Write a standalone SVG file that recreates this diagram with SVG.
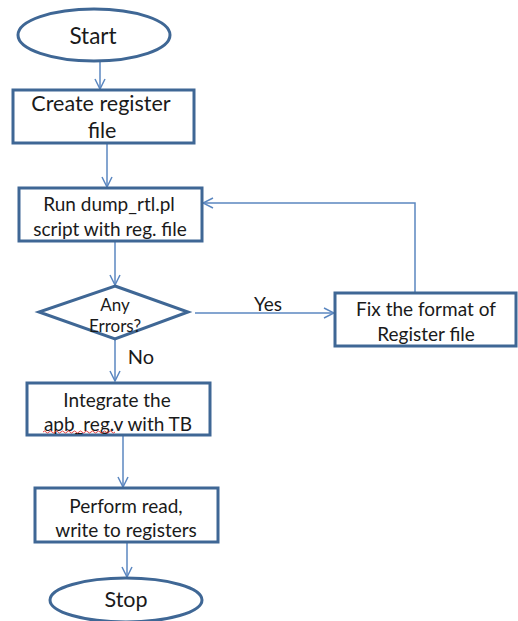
<svg xmlns="http://www.w3.org/2000/svg" width="518" height="621" viewBox="0 0 518 621">
  <style>
    .node { fill: #ffffff; stroke: #3f6795; stroke-width: 3; }
    .edge { fill: none; stroke: #5b87c0; stroke-width: 1.5; }
    .lbl { font-family: Lato, "Open Sans", sans-serif; fill: #1a1a1a; text-anchor: middle; dominant-baseline: central; }
    .big { font-size: 21.5px; }
    .mid { font-size: 19px; }
    .sm { font-size: 17px; }
  </style>
  <defs>
    <marker id="arrow" viewBox="0 0 12 12" refX="11" refY="6" markerWidth="12" markerHeight="12" markerUnits="userSpaceOnUse" orient="auto">
      <path d="M1,1 L11,6 L1,11" fill="none" stroke="#5b87c0" stroke-width="1.5"/>
    </marker>
  </defs>

  <!-- connectors -->
  <g id="connectors">
    <path class="edge" d="M100,61 L100,89" marker-end="url(#arrow)"/>
    <path class="edge" d="M107,144 L107,187" marker-end="url(#arrow)"/>
    <path class="edge" d="M115,242 L115,285" marker-end="url(#arrow)"/>
    <path class="edge" d="M195,313 L334,313" marker-end="url(#arrow)"/>
    <path class="edge" d="M415,292 L415,203 L203,203" marker-end="url(#arrow)"/>
    <path class="edge" d="M115,340 L115,381" marker-end="url(#arrow)"/>
    <path class="edge" d="M123,436 L123,487" marker-end="url(#arrow)"/>
    <path class="edge" d="M127,543 L127,577" marker-end="url(#arrow)"/>
    <text class="lbl mid" x="268" y="303">Yes</text>
    <text class="lbl mid" x="141" y="356" style="font-size:20px">No</text>
  </g>

  <g id="start">
    <ellipse class="node" cx="94" cy="35" rx="76" ry="26"/>
    <text class="lbl big" x="93" y="35" style="font-size:22.5px">Start</text>
  </g>

  <g id="create">
    <rect class="node" x="13" y="90" width="181" height="53"/>
    <text class="lbl big" x="101" y="103">Create register</text>
    <text class="lbl big" x="102" y="130">file</text>
  </g>

  <g id="run">
    <rect class="node" x="19" y="188" width="183" height="53"/>
    <text class="lbl mid" x="109" y="203">Run dump_rtl.pl</text>
    <text class="lbl mid" x="110" y="228">script with reg. file</text>
  </g>

  <g id="decision">
    <polygon class="node" points="115,286 188,312 115,339 39,312" stroke-width="2.5"/>
    <text class="lbl sm" x="115" y="304">Any</text>
    <text class="lbl sm" x="115" y="325">Errors?</text>
  </g>

  <g id="fix">
    <rect class="node" x="335" y="293" width="181" height="53"/>
    <text class="lbl mid" x="426" y="308">Fix the format of</text>
    <text class="lbl mid" x="426" y="333">Register file</text>
  </g>

  <g id="integrate">
    <rect class="node" x="27" y="383" width="183" height="52"/>
    <text class="lbl mid" x="117" y="399">Integrate the</text>
    <text class="lbl mid" x="118" y="423">apb_reg.v with TB</text>
    <path d="M43,432 q1.5,-2 3,0 t3,0 t3,0 t3,0 t3,0 t3,0 t3,0 t3,0 t3,0 t3,0 t3,0 t3,0 t3,0 t3,0 t3,0 t3,0 t3,0 t3,0 t3,0 t3,0 t3,0 t3,0 t3,0 t3,0" fill="none" stroke="#e03030" stroke-width="0.9"/>
  </g>

  <g id="perform">
    <rect class="node" x="35" y="488" width="183" height="54"/>
    <text class="lbl mid" x="126" y="505">Perform read,</text>
    <text class="lbl mid" x="126" y="529">write to registers</text>
  </g>

  <g id="stop">
    <ellipse class="node" cx="126" cy="600" rx="76" ry="22"/>
    <text class="lbl big" x="126" y="599">Stop</text>
  </g>
</svg>
